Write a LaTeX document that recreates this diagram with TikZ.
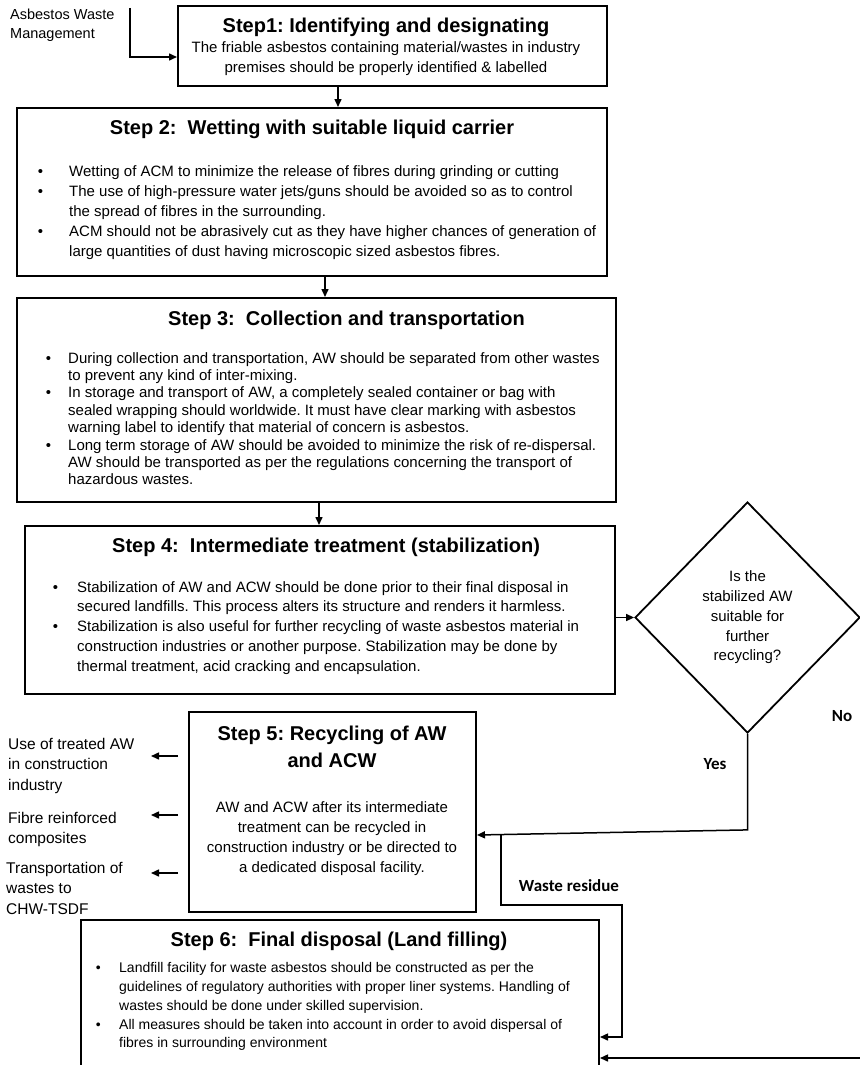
\documentclass[tikz,border=0pt]{standalone}
\usepackage{fontspec}
\setmainfont{Liberation Sans}
\newfontfamily\lblfont{Carlito}
\usetikzlibrary{arrows.meta,shapes.geometric}

\newcommand\stepbul[1]{\llap{\textbullet\hspace{#1pt}}}
\frenchspacing

\begin{document}
\begin{tikzpicture}[x=1pt,y=-1pt,
    stepbox/.style={draw,line width=2pt,inner sep=0pt},
    ttl/.style={font=\bfseries\fontsize{20}{27}\selectfont,inner sep=0pt},
    body/.style={font=\fontsize{15}{20}\selectfont,align=left,inner sep=0pt},
    side/.style={font=\fontsize{15.5}{20.5}\selectfont,align=left,inner sep=0pt,anchor=north west},
    lbl/.style={font=\lblfont\bfseries\fontsize{17}{20}\selectfont,inner sep=0pt},
    conn/.style={line width=1.5pt,-{Triangle[length=8pt,width=7pt]}}]

  \useasboundingbox (0,0) rectangle (859,1065);

  % step boxes
  \node[stepbox,minimum width=429pt,minimum height=80pt]  (s1) at (392.5,46) {};
  \node[stepbox,minimum width=590pt,minimum height=168pt] (s2) at (312,192) {};
  \node[stepbox,minimum width=599pt,minimum height=204pt] (s3) at (316.5,400) {};
  \node[stepbox,minimum width=590pt,minimum height=168pt] (s4) at (320,610) {};
  \node[stepbox,minimum width=287pt,minimum height=200pt] (s5) at (332.5,812) {};
  \node[stepbox,minimum width=518pt,minimum height=160pt] (s6) at (340,1000) {};

  \node[draw,diamond,line width=1.8pt,inner sep=0pt,minimum width=225pt,minimum height=231pt,
        align=center,font=\fontsize{15}{19.75}\selectfont] (dec) at (747.5,617.5)
       {Is the\\stabilized AW\\suitable for\\further\\recycling?};

  % step 1
  \node[ttl,anchor=base] (s1t) at (386,33) {Step1: Identifying and designating};
  \node[body,align=center,anchor=north] (s1b) at (386,41)
       {The friable asbestos containing material/wastes in industry\\
        premises should be properly identified \& labelled};

  % step 2
  \node[ttl,anchor=base] (s2t) at (312,134) {Step 2:\ \ Wetting with suitable liquid carrier};
  \node[body,anchor=north west] (s2b) at (69,165) {%
    \stepbul{26}Wetting of ACM to minimize the release of fibres during grinding or cutting\\
    \stepbul{26}The use of high-pressure water jets/guns should be avoided so as to control\\
    the spread of fibres in the surrounding.\\
    \stepbul{26}ACM should not be abrasively cut as they have higher chances of generation of\\
    large quantities of dust having microscopic sized asbestos fibres.};

  % step 3
  \node[ttl,anchor=base west] (s3t) at (168,325) {Step 3:\ \ Collection and transportation};
  \node[body,font=\fontsize{15}{17.4}\selectfont,anchor=north west] (s3b) at (68,352) {%
    \stepbul{17}During collection and transportation, AW should be separated from other wastes\\
    to prevent any kind of inter-mixing.\\
    \stepbul{17}In storage and transport of AW, a completely sealed container or bag with\\
    sealed wrapping should worldwide. It must have clear marking with asbestos\\
    warning label to identify that material of concern is asbestos.\\
    \stepbul{17}Long term storage of AW should be avoided to minimize the risk of re-dispersal.\\
    AW should be transported as per the regulations concerning the transport of\\
    hazardous wastes.};

  % step 4
  \node[ttl,anchor=base west] (s4t) at (112,552) {Step 4:\ \ Intermediate treatment (stabilization)};
  \node[body,font=\fontsize{15}{19.75}\selectfont,anchor=north west] (s4b) at (77,581) {%
    \stepbul{19}Stabilization of AW and ACW should be done prior to their final disposal in\\
    secured landfills. This process alters its structure and renders it harmless.\\
    \stepbul{19}Stabilization is also useful for further recycling of waste asbestos material in\\
    construction industries or another purpose. Stabilization may be done by\\
    thermal treatment, acid cracking and encapsulation.};

  % step 5
  \node[ttl,align=center,anchor=north] (s5t) at (332,725.5) {Step 5: Recycling of AW\\and ACW};
  \node[body,align=center,anchor=north] (s5b) at (332,801)
       {AW and ACW after its intermediate\\treatment can be recycled in\\
        construction industry or be directed to\\a dedicated disposal facility.};

  % step 6
  \node[ttl,anchor=base] (s6t) at (339,946) {Step 6:\ \ Final disposal (Land filling)};
  \node[body,font=\fontsize{14}{18.75}\selectfont,anchor=north west] (s6b) at (119,962.5) {%
    \stepbul{18.5}Landfill facility for waste asbestos should be constructed as per the\\
    guidelines of regulatory authorities with proper liner systems. Handling of\\
    wastes should be done under skilled supervision.\\
    \stepbul{18.5}All measures should be taken into account in order to avoid dispersal of\\
    fibres in surrounding environment};

  % side texts
  \node[side,font=\fontsize{14.5}{19}\selectfont] (awm) at (10,9) {Asbestos Waste\\Management};
  \node[side] (u1) at (8,738) {Use of treated AW\\in construction\\industry};
  \node[side] (u2) at (8,812) {Fibre reinforced\\composites};
  \node[side] (u3) at (6,862) {Transportation of\\wastes to\\CHW-TSDF};

  \node[lbl] (yes) at (715,764) {Yes};
  \node[lbl] (no) at (842,716) {No};
  \node[lbl] (wres) at (569,886) {Waste residue};

  % connectors
  \coordinate (awtop) at (130,8);
  \draw[conn] (awtop) |- ([yshift=-11pt]s1.west);
  \draw[conn] (s1.south -| 338,0) -- (s2.north -| 338,0);
  \draw[conn] (s2.south -| 325,0) -- (s3.north -| 325,0);
  \draw[conn] (s3.south -| 319,0) -- (s4.north -| 319,0);
  \draw[conn] (s4.east |- dec.west) -- (dec.west);

  \foreach \n/\y in {1/756,2/815,3/873} {
    \coordinate (f\n) at (178,\y);
    \coordinate (t\n) at (151,\y);
    \draw[conn] (f\n) -- (t\n);
  }

  \draw[conn] (dec.south) -- ++(0,96) -- (s5.east |- 0,835);
  \coordinate (wr) at (501,835);
  \draw[conn] (wr) |- (622,905) |- (s6.east |- 0,1037);
  \draw[conn] (dec.east) |- (s6.east |- 0,1058);

\end{tikzpicture}
\end{document}
